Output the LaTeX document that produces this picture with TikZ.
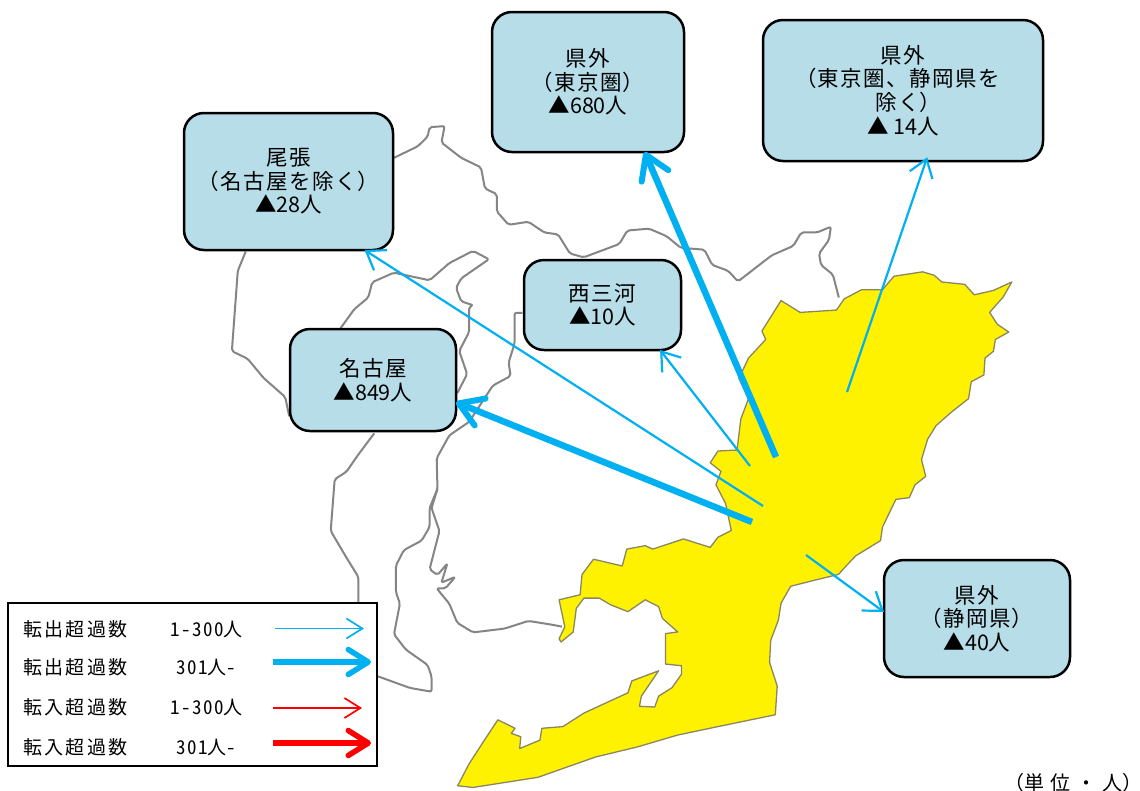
\documentclass[tikz,border=0pt]{standalone}
\usepackage{fontspec}
\usetikzlibrary{arrows.meta}
\setmainfont{Noto Sans CJK JP}
\newfontfamily\spc[LetterSpace=7]{Noto Sans CJK JP}
\newfontfamily\unitf[LetterSpace=30]{Noto Sans CJK JP}
\newfontfamily\lgd[LetterSpace=12]{Noto Sans CJK JP}
\newfontfamily\hw[RawFeature=+hwid,LetterSpace=8]{Noto Sans CJK JP}
\newfontfamily\hlt[RawFeature=+halt]{Noto Sans CJK JP}
\definecolor{boxblue}{HTML}{B7DDE8}
\definecolor{arrowblue}{HTML}{00B0F0}
\definecolor{mapyellow}{HTML}{FFF200}
\definecolor{mapgray}{HTML}{858585}
\definecolor{edgegray}{HTML}{8A8660}
\tikzset{
  infobox/.style={draw=black,line width=2.5pt,fill=boxblue,rounded corners=20pt,align=center,inner sep=0pt,outer sep=0pt,font=\fontsize{21.5}{23.6}\selectfont},
  thinarrow/.style={draw=arrowblue,line width=2.2pt,-{Straight Barb[length=17pt,width=24pt,line width=2.2pt]}},
  thickarrow/.style={draw=arrowblue,line width=6.5pt,-{Straight Barb[length=23pt,width=29pt,line width=6pt,round]}},
  lgthin/.style={line width=1.7pt,-{Straight Barb[length=16pt,width=20pt,line width=1.7pt]}},
  lgthick/.style={line width=6.5pt,-{Straight Barb[length=20pt,width=25pt,line width=5.5pt,round]}},
  lgtext/.style={anchor=west,inner sep=0pt,font=\fontsize{19}{20}\selectfont},
  border/.style={draw=mapgray,line width=2pt,line join=round,rounded corners=2pt},
}
\begin{document}
\begin{tikzpicture}[x=1pt,y=-1pt]
\useasboundingbox (0,0) rectangle (1140,790);
\clip (0,0) rectangle (1140,790);
\fill[white] (0,0) rectangle (1140,790);
% municipal borders (zoom-2 frame)
\begin{scope}[shift={(220,110)},x=0.3954pt,y=-0.3827pt]
\draw[border] (440,125) -- (500,95) -- (525,70) -- (530,45) -- (568,42) -- (560,85) -- (610,125) -- (660,150) -- (670,205) -- (700,220) -- (700,265) -- (730,300) -- (780,292) -- (820,320) -- (855,325) -- (885,375) -- (920,385) -- (1010,350) -- (1030,315) -- (1085,310) -- (1130,330) -- (1165,360) -- (1225,365) -- (1245,405) -- (1285,420) -- (1310,448) -- (1395,380) -- (1450,355) -- (1470,320) -- (1510,320) -- (1545,305) -- (1540,340) -- (1515,375) -- (1520,405) -- (1550,430) -- (1565,490);
\draw[border] (65,370) -- (45,420) -- (30,630) -- (70,650) -- (110,700) -- (165,750) -- (175,800);
\draw[border] (305,570) -- (340,520) -- (375,490) -- (385,450) -- (440,425) -- (530,445) -- (580,400) -- (640,368) -- (680,390) -- (610,440) -- (597,465) -- (610,500) -- (640,510) -- (630,515) -- (630,580) -- (605,630) -- (625,690) -- (600,740);
\draw[border] (765,530) -- (745,530) -- (745,610) -- (730,660) -- (735,695) -- (690,720) -- (630,815) -- (580,850) -- (548,910) -- (550,990) -- (530,1040) -- (530,1090) -- (510,1125) -- (465,1150) -- (445,1190) -- (445,1260) -- (455,1290) -- (440,1370) -- (470,1410) -- (525,1450) -- (535,1480) -- (535,1520) -- (480,1510) -- (400,1480);
\draw[border] (390,845) -- (350,900) -- (320,945) -- (290,965) -- (280,1100) -- (320,1170) -- (350,1220) -- (350,1300);
\draw[border] (550,990) -- (535,1040) -- (555,1100) -- (530,1200) -- (550,1215) -- (575,1185) -- (560,1235) -- (595,1220) -- (570,1250) -- (548,1250) -- (580,1290) -- (600,1340) -- (640,1365) -- (720,1355) -- (780,1335) -- (840,1345) -- (865,1350);
\end{scope}
% yellow region (zoom-1 frame)
\begin{scope}[shift={(450,260)},x=0.3827pt,y=-0.3381pt]
\filldraw[fill=mapyellow,draw=edgegray,line width=1.3pt,line join=round]
 (1160,48) -- (1235,35) -- (1265,45) -- (1285,65) -- (1345,72) -- (1370,103) -- (1420,90) -- (1468,65) -- (1445,110) -- (1410,155) -- (1430,190) -- (1460,213) -- (1425,235) -- (1420,270) -- (1398,290) -- (1395,340) -- (1362,360) -- (1355,410) -- (1310,450) -- (1270,490) -- (1248,530) -- (1232,590) -- (1243,640) -- (1215,665) -- (1200,703) -- (1165,708) -- (1130,790) -- (1125,830) -- (1060,875) -- (1035,905) -- (1015,930) -- (960,945) -- (890,965) -- (865,1015) -- (858,1065) -- (838,1125) -- (835,1190) -- (855,1260) -- (850,1345) -- (700,1380) -- (595,1405) -- (490,1440) -- (380,1470) -- (230,1530) -- (60,1560) -- (20,1555) -- (50,1490) -- (90,1420) -- (125,1360) -- (170,1385) -- (160,1400) -- (185,1410) -- (182,1445) -- (235,1420) -- (240,1385) -- (295,1380) -- (350,1340) -- (465,1280) -- (475,1245) -- (545,1215) -- (500,1290) -- (495,1320) -- (535,1322) -- (545,1290) -- (580,1265) -- (605,1225) -- (605,1200) -- (563,1195) -- (563,1105) -- (595,1100) -- (555,1060) -- (545,1025) -- (510,1005) -- (465,1040) -- (420,1020) -- (390,1000) -- (350,1000) -- (330,1030) -- (322,1100) -- (290,1130) -- (285,1120) -- (300,1085) -- (285,1005) -- (340,990) -- (345,930) -- (375,885) -- (450,905) -- (462,855) -- (510,845) -- (530,855) -- (610,825) -- (680,850) -- (700,820) -- (735,800) -- (720,720) -- (695,665) -- (708,625) -- (680,600) -- (700,565) -- (750,562) -- (760,470) -- (780,410) -- (755,350) -- (780,290) -- (825,235) -- (815,210) -- (865,120) -- (915,155) -- (1010,148) -- (1030,115) -- (1075,88) -- (1130,88) -- cycle;
\end{scope}
% boxes
\node[infobox,minimum width=209pt,minimum height=137pt] (owari) at (288.5,181.5) {{\spc 尾張}\\{\hlt （}\hspace{1pt}{\spc 名古屋を除く}\hspace{1pt}{\hlt ）}\\▲28{\spc 人}};
\node[infobox,minimum width=192pt,minimum height=140pt] (tokyo) at (588,82) {{\spc 県外}\\{\hlt （}\hspace{1pt}{\spc 東京圏}\hspace{1pt}{\hlt ）}\\▲680{\spc 人}};
\node[infobox,minimum width=280pt,minimum height=141pt] (other) at (903,90.5) {{\spc 県外}\\{\hlt （}\hspace{1pt}{\spc 東京圏、静岡県を}\\{\spc 除く}{\hlt ）}\\▲ 14{\spc 人}};
\node[infobox,minimum width=157pt,minimum height=90pt] (nishi) at (602.5,305) {{\spc 西三河}\\▲10{\spc 人}};
\node[infobox,minimum width=166pt,minimum height=102pt] (nagoya) at (373,380) {{\spc 名古屋}\\▲849{\spc 人}};
\node[infobox,minimum width=186pt,minimum height=117pt] (shizuoka) at (977,618.5) {{\spc 県外}\\{\hlt （}\hspace{1pt}{\spc 静岡県}\hspace{1pt}{\hlt ）}\\▲40{\spc 人}};
% arrows
\coordinate (s1) at (752,522);
\coordinate (s2) at (776,457);
\coordinate (s3) at (763,506);
\coordinate (s4) at (750,466);
\coordinate (s5) at (847,392);
\coordinate (s6) at (806,555);
\draw[thickarrow] (s1) -- (nagoya.-15);
\draw[thickarrow] (s2) -- (tokyo.-51.5);
\draw[thinarrow] (s3) -- (owari.-42.6);
\draw[thinarrow] (s4) -- (nishi.-38.7);
\draw[thinarrow,shorten >=-4pt] (s5) -- (other.-72);
\draw[thinarrow] (s6) -- (shizuoka.176);
% legend
\node[draw=black,line width=2pt,fill=white,minimum width=369pt,minimum height=163pt,inner sep=0pt] (legend) at (192.5,684.5) {};
\node[lgtext] (l1) at (23,629) {\lgd 転出超過数};
\node[lgtext] (n1) at (170,629) {{\hw 1-300}{\lgd 人}};
\node[lgtext] (l2) at (23,667) {\lgd 転出超過数};
\node[lgtext] (n2) at (176,667) {{\hw 301}{\lgd 人}{\hw -}};
\node[lgtext] (l3) at (23,707) {\lgd 転入超過数};
\node[lgtext] (n3) at (170,707) {{\hw 1-300}{\lgd 人}};
\node[lgtext] (l4) at (23,747) {\lgd 転入超過数};
\node[lgtext] (n4) at (176,747) {{\hw 301}{\lgd 人}{\hw -}};
\coordinate (a1s) at (275,628.5); \coordinate (a1e) at (364,628.5);
\coordinate (a2s) at (273,662); \coordinate (a2e) at (371,662);
\coordinate (a3s) at (273,708); \coordinate (a3e) at (362,708);
\coordinate (a4s) at (273,743); \coordinate (a4e) at (371,743);
\draw[lgthin,arrowblue] (a1s) -- (a1e);
\draw[lgthick,arrowblue] (a2s) -- (a2e);
\draw[lgthin,red] (a3s) -- (a3e);
\draw[lgthick,red] (a4s) -- (a4e);
\node[anchor=west,inner sep=0pt,font=\fontsize{20}{22}\selectfont] (unit) at (1014,783) {{\hlt （}{\unitf 単位・人}{\hlt ）}};
\end{tikzpicture}
\end{document}
